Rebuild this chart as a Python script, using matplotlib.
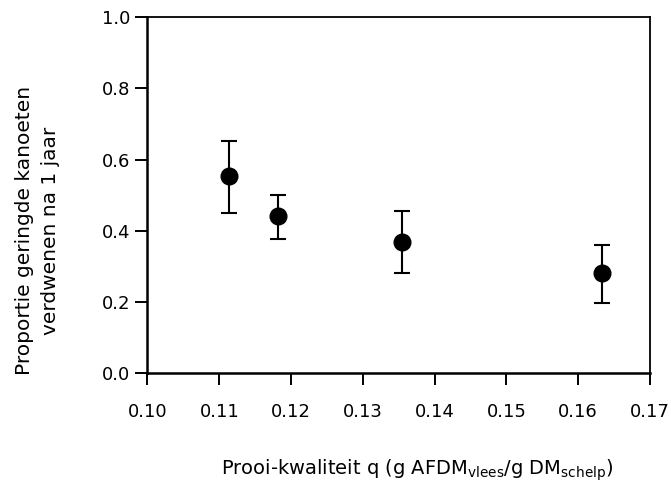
import numpy as np
import matplotlib.pyplot as plt

# prey quality vs. proportion of ringed knots gone after one year
quality = [0.1114, 0.1182, 0.1355, 0.1633]
proportion = [0.554, 0.441, 0.368, 0.282]
err_upper = [0.652, 0.500, 0.455, 0.360]
err_lower = [0.451, 0.377, 0.282, 0.198]

x_ticks = [0.10, 0.11, 0.12, 0.13, 0.14, 0.15, 0.16, 0.17]
y_ticks = [0.0, 0.2, 0.4, 0.6, 0.8, 1.0]

plt.rcParams['font.family'] = ['DejaVu Sans']
plt.rcParams['font.size'] = 13

fig = plt.figure(figsize=(6.71, 4.83), dpi=100)
ax = fig.add_axes([0.2198, 0.2271, 0.9687 - 0.2198, 0.9648 - 0.2271])

y = np.array(proportion)
yerr = np.vstack([y - np.array(err_lower), np.array(err_upper) - y])
ax.errorbar(quality, proportion, yerr=yerr, fmt='o', color='black',
            markersize=12, elinewidth=1.5, capsize=6, capthick=1.5)

ax.set_xlim(0.10, 0.17)
ax.set_ylim(0.0, 1.0)
ax.set_xticks(x_ticks)
ax.set_xticklabels([f"{v:.2f}" for v in x_ticks])
ax.set_yticks(y_ticks)
ax.set_yticklabels([f"{v:.1f}" for v in y_ticks])

for side in ['left', 'bottom']:
    ax.spines[side].set_linewidth(1.8)
for side in ['top', 'right']:
    ax.spines[side].set_linewidth(1.3)
ax.tick_params(direction='out', length=8.5, width=1.4)
ax.tick_params(axis='x', pad=13)
ax.tick_params(axis='y', pad=4)

ax.set_xlabel(r"Prooi-kwaliteit q (g AFDM$_{\mathrm{vlees}}$/g DM$_{\mathrm{schelp}}$)",
              fontsize=14)
ax.set_ylabel("Proportie geringde kanoeten\nverdwenen na 1 jaar", fontsize=14.5,
              multialignment='center', linespacing=1.5)
ax.xaxis.set_label_coords(0.536, -0.236)
ax.yaxis.set_label_coords(-0.174, 0.40)

fig.savefig("out.png", dpi=100)
